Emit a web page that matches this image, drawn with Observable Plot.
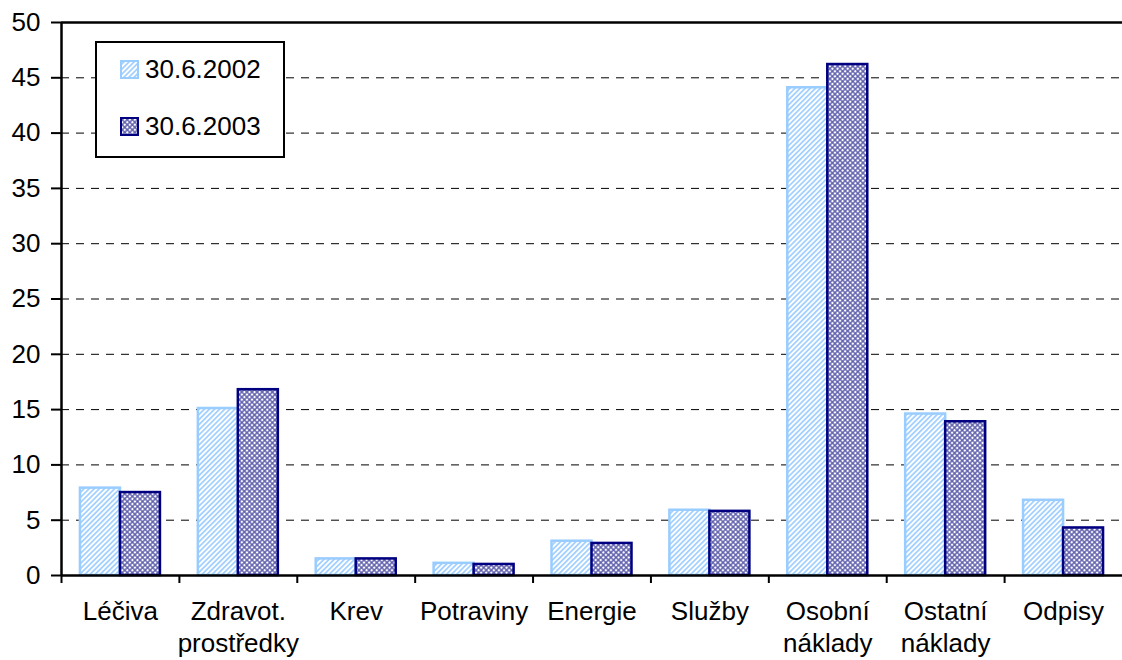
<!DOCTYPE html>
<html><head><meta charset="utf-8">
<script src="https://cdn.jsdelivr.net/npm/d3@7"></script>
<script src="https://cdn.jsdelivr.net/npm/@observablehq/plot@0.6"></script>
<style>body{margin:0;background:#fff;} svg{display:block}</style>
</head><body><div id="chart"></div>
<script>
const categories = ["Léčiva","Zdravot. prostředky","Krev","Potraviny","Energie","Služby","Osobní náklady","Ostatní náklady","Odpisy"];
const categoryLabels = ["Léčiva","Zdravot.\nprostředky","Krev","Potraviny","Energie","Služby","Osobní\nnáklady","Ostatní\nnáklady","Odpisy"];
const seriesNames = ["30.6.2002","30.6.2003"];
const values2002 = [7.9,15.1,1.5,1.1,3.1,5.9,44.1,14.6,6.8];
const values2003 = [7.5,16.8,1.5,1.0,2.9,5.8,46.2,13.9,4.3];
const yTicks = [0,5,10,15,20,25,30,35,40,45,50];

const W = 1122, H = 660, mL = 61, mR = 0, mT = 22, mB = 85;
const bw = (W - mL - mR) / categories.length;
const barW = 40, pad = (bw - 2 * barW) / 2;
const FS = 26;

const d2002 = categories.map((c, i) => ({category: c, value: values2002[i]}));
const d2003 = categories.map((c, i) => ({category: c, value: values2003[i]}));

const svg = Plot.plot({
  width: W, height: H,
  marginLeft: mL, marginRight: mR, marginTop: mT, marginBottom: mB,
  style: {fontFamily: "'Liberation Sans', Arial, sans-serif", fontSize: FS + "px", color: "#000", background: "#fff"},
  x: {type: "band", domain: categories, padding: 0, round: false, axis: null},
  y: {domain: [0, 50], axis: null},
  marks: [
    Plot.ruleY(yTicks.filter(t => t > 0 && t < 50), {stroke: "#000", strokeWidth: 1, strokeDasharray: "8,7"}),
    Plot.ruleY([50], {stroke: "#000", strokeWidth: 2.5}),
    Plot.barY(d2002, {x: "category", y: "value", fill: "url(#p2002)", stroke: "#99CCFF", strokeWidth: 2.5,
      insetLeft: pad, insetRight: bw - pad - barW}),
    Plot.barY(d2003, {x: "category", y: "value", fill: "url(#p2003)", stroke: "#000080", strokeWidth: 2.5,
      insetLeft: pad + barW, insetRight: pad}),
    Plot.ruleY([0], {stroke: "#000", strokeWidth: 2.5}),
    Plot.ruleX([categories[0]], {dx: -bw / 2, y1: 0, y2: 50, stroke: "#000", strokeWidth: 2.5}),
    Plot.ruleX(categories, {dx: -bw / 2, y1: 0, y2: 0, insetBottom: -8, stroke: "#000", strokeWidth: 2}),
    Plot.axisY({ticks: yTicks, label: null, tickSize: 10, tickPadding: 11, fontSize: FS, tickFormat: d => d, stroke: "#000", strokeWidth: 2, fill: "#000"}),
    Plot.text(categories, {x: d => d, text: (d, i) => categoryLabels[i], frameAnchor: "bottom", lineAnchor: "top",
      dy: 22, fontSize: FS, lineHeight: 1.22, fill: "#000"})
  ]
});

const s = d3.select(svg);
const defs = s.insert("defs", ":first-child");
const p1 = defs.append("pattern").attr("id", "p2002").attr("patternUnits", "userSpaceOnUse")
  .attr("width", 3.6).attr("height", 3.6).attr("patternTransform", "rotate(45)");
p1.append("rect").attr("width", 3.6).attr("height", 3.6).attr("fill", "#fff");
p1.append("line").attr("x1", 1.8).attr("x2", 1.8).attr("y1", -1).attr("y2", 5).attr("stroke", "#99CCFF").attr("stroke-width", 1.6);
const p2 = defs.append("pattern").attr("id", "p2003").attr("patternUnits", "userSpaceOnUse")
  .attr("width", 3.6).attr("height", 3.6).attr("patternTransform", "rotate(45)");
p2.append("rect").attr("width", 3.6).attr("height", 3.6).attr("fill", "#fff");
p2.append("path").attr("d", "M1.8,-1V5M-1,1.8H5").attr("stroke", "#5a5aaa").attr("stroke-width", 1.4).attr("fill", "none");

// legend
const lg = s.append("g").attr("text-anchor", "start");
lg.append("rect").attr("x", 96).attr("y", 42).attr("width", 188).attr("height", 115)
  .attr("fill", "#fff").attr("stroke", "#000").attr("stroke-width", 2);
const fills = ["url(#p2002)", "url(#p2003)"], strokes = ["#99CCFF", "#000080"];
seriesNames.forEach((name, i) => {
  const y = 60 + i * 57;
  lg.append("rect").attr("x", 121).attr("y", y + 1).attr("width", 17).attr("height", 17)
    .attr("fill", fills[i]).attr("stroke", strokes[i]).attr("stroke-width", 2);
  lg.append("text").attr("x", 145).attr("y", y + 18).attr("text-anchor", "start")
    .attr("font-size", FS).attr("fill", "#000").text(name);
});

document.getElementById("chart").appendChild(svg);
</script></body></html>
